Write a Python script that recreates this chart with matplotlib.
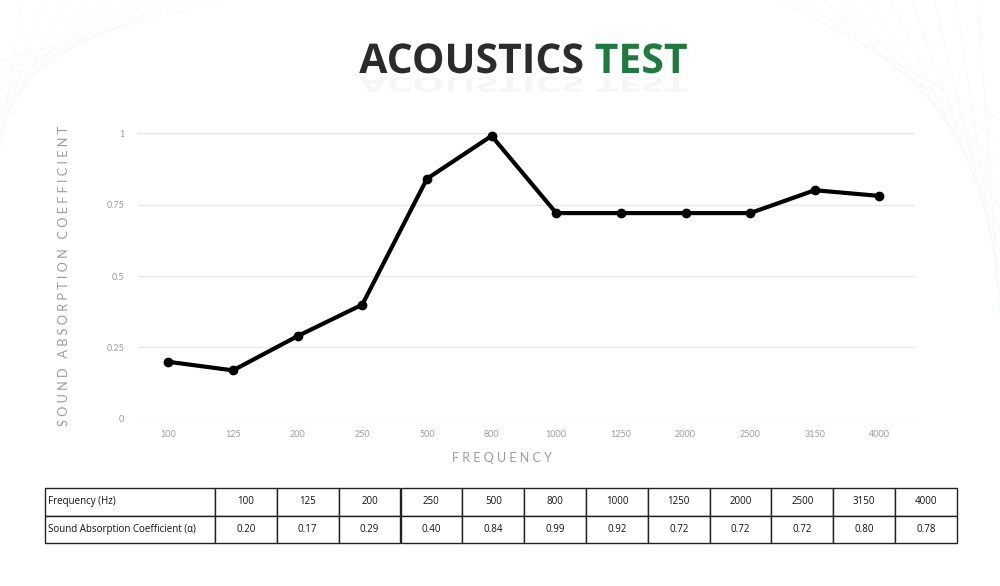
import numpy as np
import matplotlib
matplotlib.use("Agg")
import matplotlib.pyplot as plt
from matplotlib.textpath import TextPath
from matplotlib.patches import PathPatch
from matplotlib.font_manager import FontProperties
from matplotlib.transforms import Affine2D

# data
frequencies = ['100', '125', '200', '250', '500', '800', '1000',
               '1250', '2000', '2500', '3150', '4000']
absorption = [0.20, 0.17, 0.29, 0.40, 0.84, 0.99, 0.72,
              0.72, 0.72, 0.72, 0.80, 0.78]
# the table under the chart prints its own values
table_values = ['0.20', '0.17', '0.29', '0.40', '0.84', '0.99', '0.92',
                '0.72', '0.72', '0.72', '0.80', '0.78']
yticks = [0, 0.25, 0.5, 0.75, 1]
ytick_labels = ['0', '0.25', '0.5', '0.75', '1']

light = '#9c9c9c'

fig = plt.figure(figsize=(10, 5.86), dpi=100)
fig.patch.set_facecolor('white')

# faint background hatching in the top corners
bg = fig.add_axes([0, 0, 1, 1], zorder=-5)
bg.set_xlim(0, 1000)
bg.set_ylim(586, 0)
bg.axis('off')
for i in range(10):
    bg.plot([780 + i * 22, 1000], [0, 120 + i * 22], color='#e2ece2', lw=0.5, alpha=0.4)
    bg.plot([0, 220 - i * 22], [60 + i * 10, 0], color='#eeeeee', lw=0.5, alpha=0.4)

# title with faint reflection
title_x = 523
bold = FontProperties(family='Open Sans', weight='bold', size=29.5)
part1 = 'ACOUSTICS '
part2 = 'TEST'
full_w = TextPath((0, 0), part1 + part2, prop=bold).get_extents().x1
w2 = TextPath((0, 0), part2, prop=bold).get_extents().x1
tp1 = TextPath((0, 0), part1, prop=bold)
tp2 = TextPath((0, 0), part2, prop=bold)
w1 = full_w - w2
px = 100 / 72.0
x0 = title_x - full_w * px / 2
base_y = 586 - 73  # baseline in figure pixels (from bottom)
for tp, dx, col in [(tp1, 0, '#2b2b2b'), (tp2, w1, '#1f7a3f')]:
    t = Affine2D().scale(px).translate(x0 + dx * px, base_y)
    fig.patches.append(PathPatch(tp, transform=t, color=col, lw=0))
    r = Affine2D().scale(px, -px * 0.5).translate(x0 + dx * px, base_y - 4)
    fig.patches.append(PathPatch(tp, transform=r, color='#d8d8d8', alpha=0.25, lw=0))

# main line chart
ax = fig.add_axes([0.138, 0.285, 0.777, 0.488])
x = np.arange(len(frequencies))
ax.plot(x, absorption, color='black', lw=3, marker='o', ms=6, clip_on=False, zorder=3)
ax.set_xlim(-0.47, 11.55)
ax.set_ylim(0, 1)
ax.set_yticks(yticks)
ax.set_yticklabels(ytick_labels)
ax.set_xticks(x)
ax.set_xticklabels(frequencies)
ax.grid(axis='y', color='#e8e8e8', lw=1)
ax.set_axisbelow(True)
for s in ax.spines.values():
    s.set_visible(False)
ax.tick_params(length=0, labelsize=6.5, labelcolor=light)
ax.tick_params(axis='y', pad=10)
ax.tick_params(axis='x', pad=8)
for lab in ax.get_xticklabels() + ax.get_yticklabels():
    lab.set_fontfamily('Lato')

ax.set_xlabel(' '.join('FREQUENCY'), fontsize=9, color=light, fontfamily='Lato')
ax.xaxis.set_label_coords(0.468, -0.115)
ax.set_ylabel('   '.join(' '.join(w) for w in 'SOUND ABSORPTION COEFFICIENT'.split()),
              fontsize=9.2, color=light, fontfamily='Lato', labelpad=26)

# data table
tax = fig.add_axes([0.045, 1 - 543 / 586, 0.912, 55 / 586])
tax.axis('off')
cells = [['Frequency (Hz)'] + frequencies,
         ['Sound Absorption Coefficient (α)'] + table_values]
first_w = 170 / 912
other_w = (1 - first_w) / len(frequencies)
tbl = tax.table(cellText=cells, colWidths=[first_w] + [other_w] * len(frequencies),
                bbox=[0, 0, 1, 1], cellLoc='center')
tbl.auto_set_font_size(False)
for (r, c), cell in tbl.get_celld().items():
    cell.set_edgecolor('#222222')
    cell.set_linewidth(1)
    cell.get_text().set_fontsize(7)
    cell.get_text().set_fontfamily('Open Sans')
    cell.get_text().set_color('#111111')
    if c == 0:
        cell.get_text().set_ha('left')
        cell.PAD = 0.02

fig.savefig('out.png', dpi=100, facecolor='white')
